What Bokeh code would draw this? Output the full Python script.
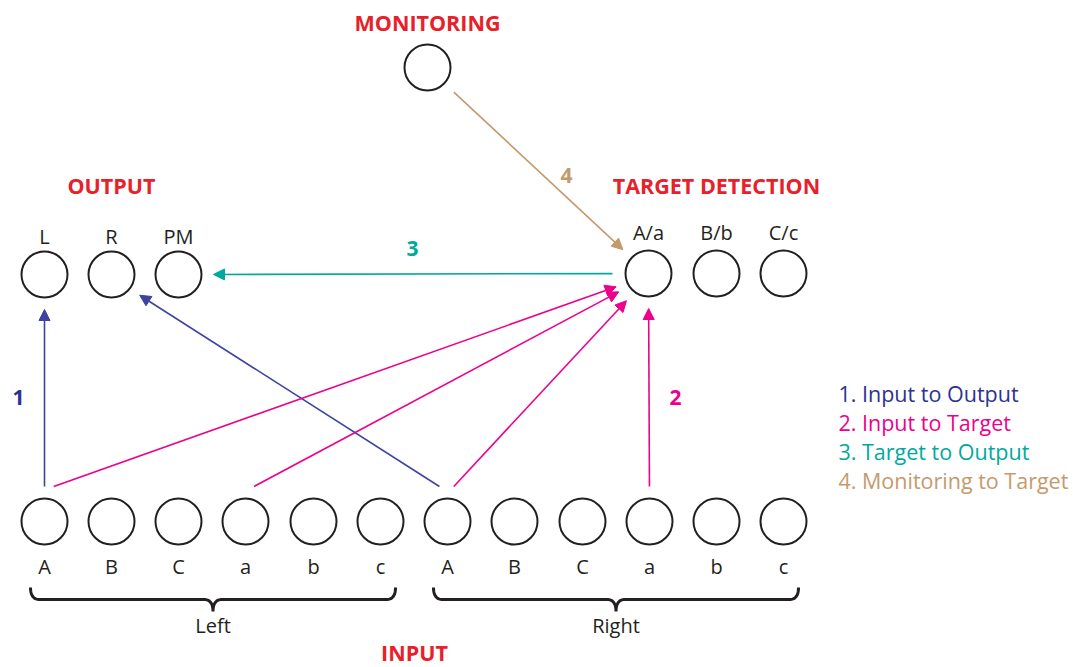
import numpy as np
from bokeh.plotting import figure
from bokeh.models import Range1d, Arrow, NormalHead, ColumnDataSource
from bokeh.core.properties import value
from bokeh.embed import file_html
from bokeh.resources import INLINE

FONT = "Open Sans"

# ---- data: nodes ----
input_labels = ["A", "B", "C", "a", "b", "c", "A", "B", "C", "a", "b", "c"]
input_x = [44, 111, 178, 245, 313, 380, 447, 514, 582, 649, 716, 783]
input_y = 521

output_labels = ["L", "R", "PM"]
output_x = [44, 111, 178]
output_y = 274

target_labels = ["A/a", "B/b", "C/c"]
target_x = [648, 716, 783]
target_y = 273

monitor_x = 427
monitor_y = 67

group_names = ["Left", "Right"]
group_members = [(0, 5), (6, 11)]

section_titles = ["MONITORING", "OUTPUT", "TARGET DETECTION", "INPUT"]
section_x = [427, 111, 716, 414]
section_y = [22, 185, 185, 652]

legend_labels = ["1. Input to Output", "2. Input to Target",
                 "3. Target to Output", "4. Monitoring to Target"]
colors = ["#2E3192", "#EC008C", "#00A99D", "#C49A6C"]
line_colors = ["#3E43A0", "#EC008C", "#00A99D", "#C49A6C"]
red = "#E8202A"

# edges: (kind, source, target)
edges_1 = [("in", 0, ("out", 0)), ("in", 6, ("out", 1))]
edges_2 = [("in", 0, ("tgt", 0)), ("in", 3, ("tgt", 0)),
           ("in", 6, ("tgt", 0)), ("in", 9, ("tgt", 0))]
edges_3 = [("tgt", 0, ("out", 2))]
edges_4 = [("mon", 0, ("tgt", 0))]
edge_num_labels = ["1", "2", "3", "4"]
edge_num_x = [18, 675, 412, 566]
edge_num_y = [397, 397, 248, 175]

R = 23


def pos(kind, i):
    if kind == "in":
        return input_x[i], input_y
    if kind == "out":
        return output_x[i], output_y
    if kind == "tgt":
        return target_x[i], target_y
    return monitor_x, monitor_y


def arrow_source(edges):
    xs, ys, xe, ye = [], [], [], []
    for kind, i, (tk, j) in edges:
        sx, sy = pos(kind, i)
        tx, ty = pos(tk, j)
        d = np.array([tx - sx, ty - sy], dtype=float)
        d /= np.linalg.norm(d)
        if kind == "in":
            x0, y0 = sx + 10 * d[0], sy - 35
        else:
            x0, y0 = sx + 36 * d[0], sy + 36 * d[1]
        x1, y1 = tx - 35 * d[0], ty - 35 * d[1]
        xs.append(x0); ys.append(y0); xe.append(x1); ye.append(y1)
    return ColumnDataSource(dict(x0=xs, y0=ys, x1=xe, y1=ye))


p = figure(width=1073, height=667, output_backend="svg", toolbar_location=None,
           x_range=Range1d(0, 1073), y_range=Range1d(667, 0), min_border=0)
p.axis.visible = False
p.grid.visible = False
p.outline_line_color = None
p.background_fill_color = "white"
p.border_fill_color = "white"

# arrows
for edges, c in zip([edges_1, edges_2, edges_3, edges_4], line_colors):
    src = arrow_source(edges)
    p.add_layout(Arrow(end=NormalHead(size=11, fill_color=c, line_color=c, line_width=1),
                       source=src, x_start="x0", y_start="y0", x_end="x1", y_end="y1",
                       line_color=c, line_width=1.6))

# nodes
all_x = input_x + output_x + target_x + [monitor_x]
all_y = [input_y] * len(input_x) + [output_y] * len(output_x) + [target_y] * len(target_x) + [monitor_y]
p.circle(all_x, all_y, radius=R, fill_color="white", line_color="#231F20", line_width=2)

# node labels
lab_size = "20px"
p.text(input_x, [566] * len(input_x), text=input_labels, text_font=value(FONT),
       text_font_size=lab_size, text_align="center", text_baseline="middle", text_color="#231F20")
p.text(output_x, [236] * len(output_x), text=output_labels, text_font=value(FONT),
       text_font_size=lab_size, text_align="center", text_baseline="middle", text_color="#231F20")
p.text(target_x, [232] * len(target_x), text=target_labels, text_font=value(FONT),
       text_font_size=lab_size, text_align="center", text_baseline="middle", text_color="#231F20")

# braces
for name, (a, b) in zip(group_names, group_members):
    x0 = input_x[a] - 14
    x1 = input_x[b] + 15
    xc = (x0 + x1) / 2
    ytop, ymid, ybot = 587, 599, 611
    t = np.linspace(0, 1, 12)
    def q(p0, p1, p2):
        return ((1 - t) ** 2)[:, None] * np.array(p0) + (2 * (1 - t) * t)[:, None] * np.array(p1) + (t ** 2)[:, None] * np.array(p2)
    seg1 = q((x0, ytop), (x0, ymid), (x0 + 9, ymid))
    seg2 = q((xc - 9, ymid), (xc, ymid), (xc, ybot))
    seg3 = q((xc, ybot), (xc, ymid), (xc + 9, ymid))
    seg4 = q((x1 - 9, ymid), (x1, ymid), (x1, ytop))
    pts = np.vstack([seg1, seg2, seg3, seg4])
    p.line(pts[:, 0], pts[:, 1], line_color="#231F20", line_width=3)
    p.text([xc], [625], text=[name], text_font=value(FONT), text_font_size=lab_size,
           text_align="center", text_baseline="middle", text_color="#231F20")

# section titles
p.text(section_x, section_y, text=section_titles, text_font=value(FONT),
       text_font_size="21.5px", text_font_style="bold", text_align="center",
       text_baseline="middle", text_color=red)

# edge numbers
p.text(edge_num_x, edge_num_y, text=edge_num_labels, text_font=value(FONT),
       text_font_size="21px", text_font_style="bold", text_align="center",
       text_baseline="middle", text_color=colors)

# legend
p.text([838] * 4, [393, 422, 451, 480], text=legend_labels, text_font=value(FONT),
       text_font_size="21.5px", text_align="left", text_baseline="middle", text_color=colors)

open("out.html", "w").write(file_html(p, INLINE))
